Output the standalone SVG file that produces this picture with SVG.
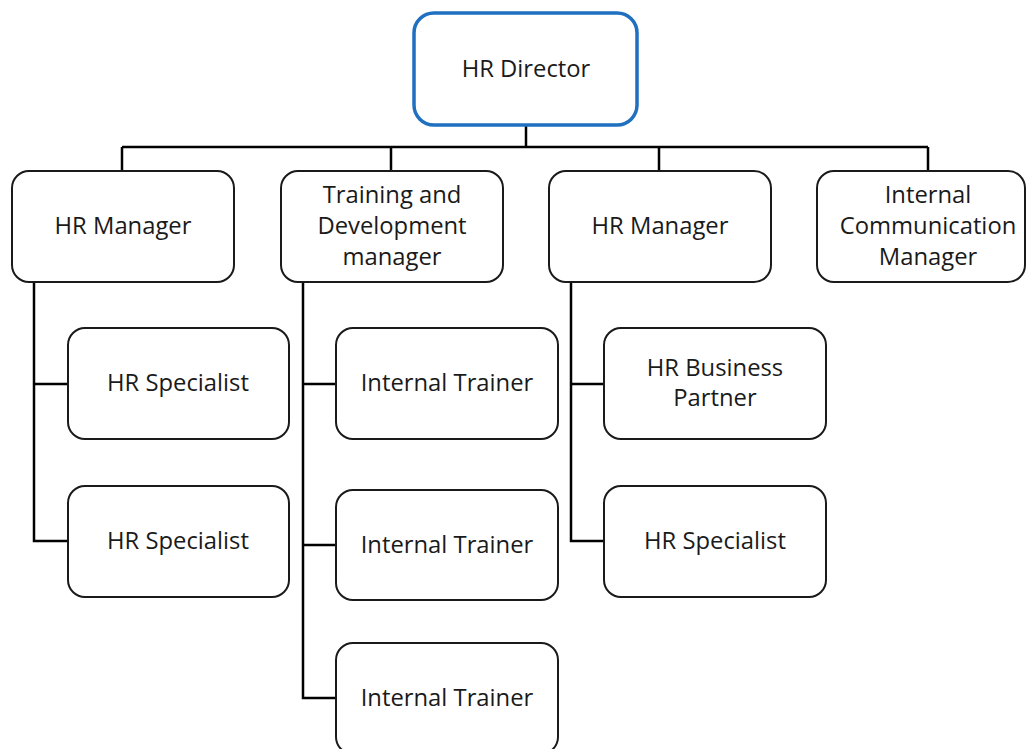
<svg xmlns="http://www.w3.org/2000/svg" width="1027" height="749" viewBox="0 0 1027 749">
<style>
.box{fill:#fff;stroke:#1a1a1a;stroke-width:2}
.top{fill:#fff;stroke:#1f70c1;stroke-width:3.5}
.t{font-family:"Open Sans","Liberation Sans",sans-serif;font-size:23.8px;fill:#1a1a1a;text-anchor:middle}
.c{fill:none;stroke:#000;stroke-width:2.5}
</style>
<rect width="1027" height="749" fill="#fff"/>
<g id="connectors">
<path class="c" d="M526 125V147M122 147H928M122 147V171M391 147V171M659 147V171M928 147V171"/>
<path class="c" d="M34 282V541H68M34 384H68"/>
<path class="c" d="M303 282V698H336M303 384H336M303 545H336"/>
<path class="c" d="M571 282V541H604M571 384H604"/>
</g>
<g id="hr-director"><rect class="top" x="414" y="13" width="223" height="112" rx="20"/><text class="t" x="526" y="77">HR Director</text></g>
<g id="hr-manager-1"><rect class="box" x="12" y="171" width="222" height="111" rx="17"/><text class="t" x="123" y="234">HR Manager</text></g>
<g id="training-manager"><rect class="box" x="281" y="171" width="222" height="111" rx="17"/><text class="t" x="392" y="203">Training and</text><text class="t" x="392" y="234">Development</text><text class="t" x="392" y="265">manager</text></g>
<g id="hr-manager-2"><rect class="box" x="549" y="171" width="222" height="111" rx="17"/><text class="t" x="660" y="234">HR Manager</text></g>
<g id="internal-comm-manager"><rect class="box" x="817" y="171" width="208" height="111" rx="17"/><text class="t" x="928" y="203">Internal</text><text class="t" x="928" y="234">Communication</text><text class="t" x="928" y="265">Manager</text></g>
<g id="hr-specialist-1"><rect class="box" x="68" y="328" width="221" height="111" rx="17"/><text class="t" x="178" y="391">HR Specialist</text></g>
<g id="hr-specialist-2"><rect class="box" x="68" y="486" width="221" height="111" rx="17"/><text class="t" x="178" y="549">HR Specialist</text></g>
<g id="internal-trainer-1"><rect class="box" x="336" y="328" width="222" height="111" rx="17"/><text class="t" x="447" y="391">Internal Trainer</text></g>
<g id="internal-trainer-2"><rect class="box" x="336" y="490" width="222" height="110" rx="17"/><text class="t" x="447" y="553">Internal Trainer</text></g>
<g id="internal-trainer-3"><rect class="box" x="336" y="643" width="222" height="111" rx="17"/><text class="t" x="447" y="706">Internal Trainer</text></g>
<g id="hr-business-partner"><rect class="box" x="604" y="328" width="222" height="111" rx="17"/><text class="t" x="715" y="376">HR Business</text><text class="t" x="715" y="406">Partner</text></g>
<g id="hr-specialist-3"><rect class="box" x="604" y="486" width="222" height="111" rx="17"/><text class="t" x="715" y="549">HR Specialist</text></g>
</svg>
